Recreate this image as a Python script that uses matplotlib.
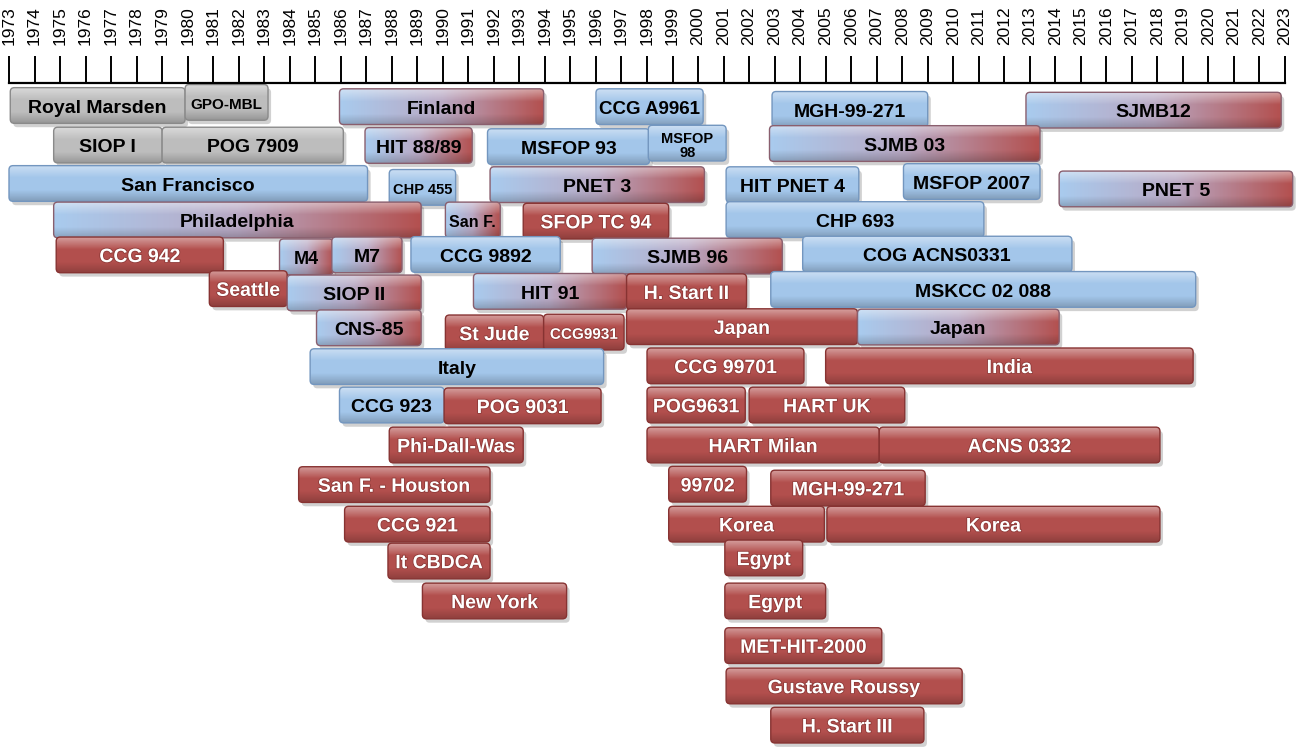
import numpy as np
import matplotlib
matplotlib.use('Agg')
import matplotlib.pyplot as plt
from matplotlib.patches import FancyBboxPatch
from matplotlib.colors import LinearSegmentedColormap
import matplotlib.patheffects as pe

# timeline of trials
years = np.arange(1973, 2024)

labels = ['Royal Marsden', 'GPO-MBL', 'Finland', 'CCG A9961', 'MGH-99-271', 'SJMB12',
          'SIOP I', 'POG 7909', 'HIT 88/89', 'MSFOP 93', 'MSFOP\n98', 'SJMB 03',
          'San Francisco', 'CHP 455', 'PNET 3', 'HIT PNET 4', 'MSFOP 2007', 'PNET 5',
          'Philadelphia', 'San F.', 'SFOP TC 94', 'CHP 693',
          'CCG 942', 'M4', 'M7', 'CCG 9892', 'SJMB 96', 'COG ACNS0331',
          'Seattle', 'SIOP II', 'HIT 91', 'H. Start II', 'MSKCC 02 088',
          'CNS-85', 'St Jude', 'CCG9931', 'Japan', 'Japan',
          'Italy', 'CCG 99701', 'India',
          'CCG 923', 'POG 9031', 'POG9631', 'HART UK',
          'Phi-Dall-Was', 'HART Milan', 'ACNS 0332',
          'San F. - Houston', '99702', 'MGH-99-271',
          'CCG 921', 'Korea', 'Korea',
          'It CBDCA', 'Egypt',
          'New York', 'Egypt',
          'MET-HIT-2000', 'Gustave Roussy', 'H. Start III']
starts = [1973.05, 1979.9, 1985.95, 1996.0, 2002.9, 2012.85,
          1974.75, 1979.0, 1986.95, 1991.75, 1998.05, 2002.8,
          1973.0, 1987.9, 1991.85, 2001.1, 2008.05, 2014.15,
          1974.75, 1990.1, 1993.15, 2001.1,
          1974.85, 1983.6, 1985.65, 1988.75, 1995.85, 2004.1,
          1980.85, 1983.9, 1991.2, 1997.2, 2002.85,
          1985.05, 1990.1, 1993.95, 1997.2, 2006.25,
          1984.8, 1998.0, 2005.0,
          1985.95, 1990.05, 1998.0, 2002.0,
          1987.9, 1998.0, 2007.1,
          1984.35, 1998.85, 2002.85,
          1986.15, 1998.85, 2005.05,
          1987.85, 2001.05,
          1989.2, 2001.05,
          2001.05, 2001.1, 2002.85]
ends = [1979.9, 1983.15, 1993.95, 2000.2, 2009.0, 2022.85,
        1979.0, 1986.1, 1991.15, 1998.1, 2001.1, 2013.4,
        1987.05, 1990.5, 2000.25, 2006.3, 2013.4, 2023.3,
        1989.15, 1992.25, 1998.85, 2011.2,
        1981.4, 1985.7, 1988.4, 1994.6, 2003.3, 2014.65,
        1983.9, 1989.15, 1997.2, 2001.9, 2019.5,
        1989.15, 1993.95, 1997.1, 2006.25, 2014.15,
        1996.3, 2004.15, 2019.4,
        1990.05, 1996.2, 2001.85, 2008.1,
        1993.15, 2007.1, 2018.1,
        1991.85, 2001.9, 2008.9,
        1991.85, 2004.95, 2018.1,
        1991.85, 2004.1,
        1994.85, 2005.0,
        2007.2, 2010.35, 2008.85]
lanes = [0.0, -0.08, 0.03, 0.03, 0.1, 0.12,
         1.02, 1.02, 1.03, 1.06, 0.97, 0.98,
         2.01, 2.11, 2.04, 2.04, 1.96, 2.15,
         2.95, 2.95, 2.98, 2.94,
         3.85, 3.9, 3.85, 3.84, 3.88, 3.83,
         4.72, 4.83, 4.79, 4.8, 4.74,
         5.73, 5.86, 5.84, 5.7, 5.71,
         6.73, 6.71, 6.71,
         7.72, 7.74, 7.72, 7.72,
         8.75, 8.75, 8.75,
         9.77, 9.76, 9.86,
         10.79, 10.79, 10.79,
         11.74, 11.66,
         12.77, 12.77,
         13.92, 14.96, 15.97]
kinds = ['gray', 'gray', 'grad', 'blue', 'blue', 'grad',
         'gray', 'gray', 'grad', 'blue', 'blue', 'grad',
         'blue', 'blue', 'grad', 'blue', 'blue', 'grad',
         'grad', 'grad', 'red', 'blue',
         'red', 'grad', 'grad', 'blue', 'grad', 'blue',
         'red', 'grad', 'grad', 'red', 'blue',
         'grad', 'red', 'red', 'red', 'grad',
         'blue', 'red', 'red',
         'blue', 'red', 'red', 'red',
         'red', 'red', 'red',
         'red', 'red', 'red',
         'red', 'red', 'red',
         'red', 'red',
         'red', 'red',
         'red', 'red', 'red']

small = {'GPO-MBL': 11, 'CHP 455': 10.5, 'San F.': 11.5, 'CCG9931': 11,
         'MSFOP\n98': 10.5, 'M4': 13, 'CCG A9961': 13.5}

body = {'gray': '#bdbdbd', 'blue': '#a3c6ea', 'red': '#b24f4d'}
edge = {'gray': '#8a8a8a', 'blue': '#7396bf', 'red': '#873332', 'grad': '#8a5f6e'}
grad_cmap = LinearSegmentedColormap.from_list('br', ['#a9cbee', '#b9a9c4', '#b3504f'])

W, H = 1302, 753
px_year = 25.52
row_px = 38.8
fig = plt.figure(figsize=(W / 100, H / 100), dpi=100)
ax = fig.add_axes([0, 0, 1, 1])
xl = (1973 - 9 / px_year, 1973 + (W - 9) / px_year)
yl = ((H - 105.5) / row_px, -105.5 / row_px)
ax.axis('off')

aspect = px_year / row_px
bh = 0.92
rad = 0.16
style = 'round,pad=0,rounding_size=%g' % rad

gloss = np.zeros((60, 1, 4))
t = np.linspace(0, 1, 60)
gloss[:, 0, :3] = np.where(t < 0.5, 1.0, 0.0)[:, None]
gloss[:, 0, 3] = np.where(t < 0.35, 0.45 * (1 - t / 0.35), 0) + np.where(t > 0.7, 0.2 * (t - 0.7) / 0.3, 0)
hgrad = np.linspace(0, 1, 200)[None, :]

for i, (lab, x0, x1, yc, k) in enumerate(zip(labels, starts, ends, lanes, kinds)):
    z = 2 + i
    y0 = yc - bh / 2
    w = x1 - x0
    ax.add_patch(FancyBboxPatch((x0 + 0.12, y0 + 0.1), w, bh, boxstyle=style,
                                mutation_aspect=aspect, fc='k', ec='none', alpha=0.18, zorder=z))
    fc = body.get(k, '#b0a0b8')
    bx = FancyBboxPatch((x0, y0), w, bh, boxstyle=style, mutation_aspect=aspect,
                        fc=fc, ec='none', zorder=z + 0.1)
    ax.add_patch(bx)
    if k == 'grad':
        im = ax.imshow(hgrad, extent=(x0, x1, y0 + bh, y0), cmap=grad_cmap, aspect='auto',
                       origin='upper', zorder=z + 0.2, interpolation='bilinear')
        im.set_clip_path(bx)
    gl = ax.imshow(gloss, extent=(x0, x1, y0 + bh, y0), aspect='auto', origin='upper',
                   zorder=z + 0.3, interpolation='bilinear')
    gl.set_clip_path(bx)
    ax.add_patch(FancyBboxPatch((x0, y0), w, bh, boxstyle=style, mutation_aspect=aspect,
                                fc='none', ec=edge[k], lw=1.0, zorder=z + 0.4))
    tc = 'white' if k == 'red' else 'black'
    txt = ax.text((x0 + x1) / 2, yc + 0.07, lab, ha='center', va='center',
                  fontsize=small.get(lab, 14), fontweight='bold', color=tc,
                  family='Liberation Sans', linespacing=0.95, zorder=z + 0.5)
    if k == 'red':
        txt.set_path_effects([pe.withStroke(linewidth=1.2, foreground='#8e3a38')])

ax.set_xlim(*xl)
ax.set_ylim(*yl)

# year axis on top
axt = fig.add_axes([0, 1 - 83 / H, 1, 27 / H])
axt.set_xlim(*xl)
axt.set_yticks([])
for s in ['top', 'left', 'right']:
    axt.spines[s].set_visible(False)
axt.spines['bottom'].set_linewidth(1.6)
axt.spines['bottom'].set_bounds(1973, 2023)
axt.patch.set_alpha(0)
axt.set_xticks(years)
axt.set_xticklabels([str(y) for y in years], rotation=90, family='Liberation Sans', fontsize=12.5)
axt.tick_params(axis='x', bottom=True, top=False, labelbottom=False, labeltop=True,
                direction='in', length=27 * 0.72, width=1.4, pad=8)

fig.savefig('out.png', dpi=100)
